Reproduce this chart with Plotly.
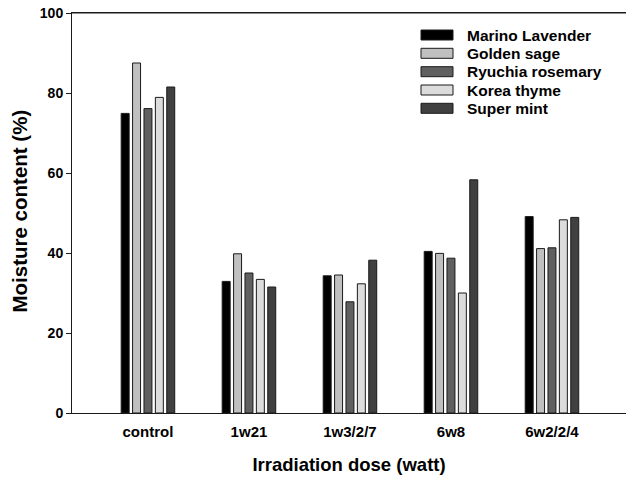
import plotly.graph_objects as go

categories = ["control", "1w21", "1w3/2/7", "6w8", "6w2/2/4"]
series_names = ["Marino Lavender", "Golden sage", "Ryuchia rosemary", "Korea thyme", "Super mint"]
marino_lavender = [74.9, 32.9, 34.3, 40.4, 49.1]
golden_sage = [87.5, 39.8, 34.5, 39.9, 41.1]
ryuchia_rosemary = [76.1, 35.0, 27.8, 38.7, 41.3]
korea_thyme = [78.9, 33.4, 32.3, 30.0, 48.3]
super_mint = [81.5, 31.5, 38.2, 58.3, 48.9]
y_ticks = [0, 20, 40, 60, 80, 100]

values = [marino_lavender, golden_sage, ryuchia_rosemary, korea_thyme, super_mint]
colors = ["#000000", "#c0c0c0", "#606060", "#dcdcdc", "#404040"]

FONT = "Liberation Sans, Arial, sans-serif"

fig = go.Figure()
for name, vals, col in zip(series_names, values, colors):
    fig.add_trace(go.Bar(
        x=categories, y=vals, name=name,
        marker=dict(color=col, line=dict(color="#1a1a1a", width=1)),
        showlegend=False,
    ))

# plot area in page pixels (body margin removed via post_script)
L, R, T, B = 72, 626, 13, 413
W, H = R - L, B - T

def px2x(px):
    return (px - L) / W

def py2y(py):
    return (B - py) / H

shapes = [dict(type="line", xref="paper", yref="paper", x0=0, x1=1, y0=1, y1=1,
               line=dict(color="#1a1a1a", width=1))]
annotations = []
row_y = [35, 53.3, 71.7, 90, 108.3]
for name, col, ry in zip(series_names, colors, row_y):
    shapes.append(dict(type="rect", xref="paper", yref="paper",
                       x0=px2x(421), x1=px2x(453), y0=py2y(ry + 5), y1=py2y(ry - 5),
                       fillcolor=col, line=dict(color="#1a1a1a", width=1)))
    annotations.append(dict(xref="paper", yref="paper", x=px2x(465), y=py2y(ry),
                            xanchor="left", yanchor="middle", showarrow=False,
                            text=name, font=dict(family=FONT, size=15.5, color="#000", weight="bold")))

# y-axis title
annotations.append(dict(xref="paper", yref="paper", x=px2x(18.5), y=py2y(211),
                        xanchor="center", yanchor="middle", showarrow=False, textangle=-90,
                        text="Moisture content (%)",
                        font=dict(family=FONT, size=20.5, color="#000", weight="bold")))

fig_w, fig_h = 626, 477
fig.update_layout(
    width=fig_w, height=fig_h,
    margin=dict(l=L, r=fig_w - R, t=T, b=fig_h - B, autoexpand=False),
    paper_bgcolor="white", plot_bgcolor="white",
    barmode="group", bargap=0.436, bargroupgap=0.3,
    shapes=shapes, annotations=annotations,
    font=dict(family=FONT, color="#000"),
    xaxis=dict(
        range=[-0.752, 4.733], showline=True, linecolor="#1a1a1a", linewidth=1, mirror=True,
        ticks="", showgrid=False, zeroline=False, automargin=False,
        ticklabelstandoff=5,
        tickfont=dict(family=FONT, size=15, color="#000", weight="bold"),
        title=dict(text="Irradiation dose (watt)", standoff=19,
                   font=dict(family=FONT, size=18.5, color="#000", weight="bold")),
    ),
    yaxis=dict(
        range=[0, 100], tickvals=y_ticks, showline=True, linecolor="#1a1a1a", linewidth=1,
        ticks="outside", ticklen=5, tickcolor="#1a1a1a", showgrid=False, zeroline=False,
        automargin=False, ticklabeloverflow="allow",
        tickfont=dict(family=FONT, size=14, color="#000", weight="bold"),
    ),
)

fig.write_html("out.html", config={"displayModeBar": False},
               post_script="document.body.style.margin='0';")
